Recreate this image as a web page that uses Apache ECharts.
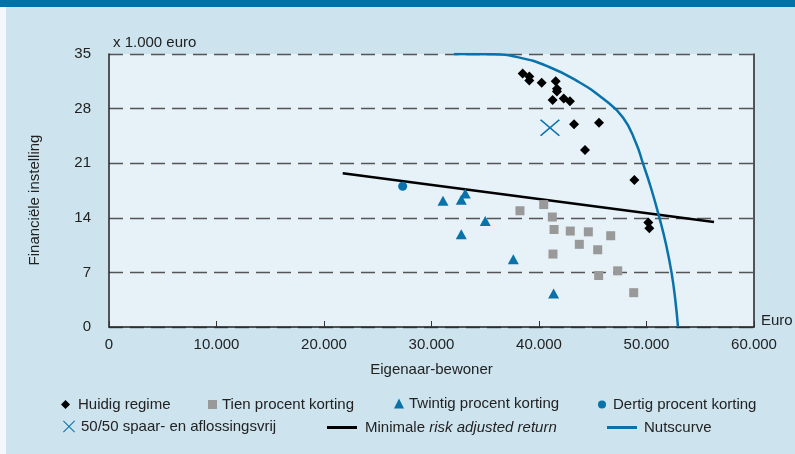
<!DOCTYPE html>
<html><head><meta charset="utf-8">
<script src="https://cdn.jsdelivr.net/npm/echarts@6/dist/echarts.min.js"></script>
<style>html,body{margin:0;padding:0;background:#cde3ee}#c{width:795px;height:454px}</style>
</head><body><div id="c"></div>
<script>
// ---- data ----
const xTickLabels = ['0', '10.000', '20.000', '30.000', '40.000', '50.000', '60.000'];
const yTickLabels = ['0', '7', '14', '21', '28', '35'];

const huidigX = [38480, 39100, 39100, 40250, 41550, 41670, 41670, 41270, 42300, 42880, 43260, 45580, 44280, 48870, 50170, 50260];
const huidigY = [32.5, 32.1, 31.6, 31.3, 31.5, 30.55, 30.2, 29.1, 29.3, 28.95, 26.0, 26.2, 22.7, 18.85, 13.4, 12.65];

const tienX = [38230, 40440, 41240, 41400, 42910, 44590, 46670, 43750, 45460, 41300, 47320, 45550, 48810];
const tienY = [14.9, 15.7, 14.1, 12.5, 12.3, 12.2, 11.7, 10.6, 9.9, 9.35, 7.2, 6.6, 4.4];

const twintigX = [31070, 32770, 33140, 35000, 32770, 37610, 41360];
const twintigY = [16.2, 16.3, 17.1, 13.6, 11.9, 8.7, 4.3];

const dertigX = [27320];
const dertigY = [18.05];

const spaarX = [41020];
const spaarY = [25.55];

const rarX = [21740, 56280];
const rarY = [19.7, 13.45];

const nutsX = [32090, 35540, 38000, 40840, 43600, 45950, 47810, 49020, 49670, 50420, 51210, 51810, 52330, 52680, 52930];
const nutsY = [35.0, 34.96, 34.6, 33.4, 31.5, 29.29, 26.86, 23.59, 20.97, 17.82, 13.95, 10.64, 6.97, 3.46, 0];

const names = ['Huidig regime', 'Tien procent korting', 'Twintig procent korting', 'Dertig procent korting',
  '50/50 spaar- en aflossingsvrij', 'Minimale risk adjusted return', 'Nutscurve'];

// ---- build ----
const zip = (xs, ys) => xs.map((x, i) => [x, ys[i]]);
const BLUE = '#0a72aa';
const FONT = "'Liberation Sans', Arial, sans-serif";
const TXT = '#222';
const crossPath = 'path://M0,1.2L1.2,0L10,8.8L18.8,0L20,1.2L11.2,10L20,18.8L18.8,20L10,11.2L1.2,20L0,18.8L8.8,10Z';

function leg(name, icon, left, top, w, h, extra) {
  return Object.assign({
    data: [{ name: name, icon: icon }],
    left: left, top: top, itemWidth: w, itemHeight: h, padding: 0,
    selectedMode: false,
    textStyle: { fontFamily: FONT, fontSize: 15, color: TXT }
  }, extra || {});
}

const chart = echarts.init(document.getElementById('c'), null, { renderer: 'canvas' });
chart.setOption({
  backgroundColor: '#cde3ee',
  animation: false,
  textStyle: { fontFamily: FONT },
  grid: { left: 109, right: 41, top: 54, bottom: 127, show: true, backgroundColor: '#e6f1f8', borderWidth: 0 },
  xAxis: {
    type: 'value', min: 0, max: 60000, interval: 10000,
    axisLine: { show: true, onZero: false, lineStyle: { color: '#222', width: 1.5 } },
    axisTick: { show: true, inside: true, length: 6, lineStyle: { color: '#333' } },
    splitLine: { show: false },
    axisLabel: { margin: 10, fontSize: 15, color: TXT, fontFamily: FONT,
      formatter: v => xTickLabels[Math.round(v / 10000)] },
    name: 'Eigenaar-bewoner', nameLocation: 'middle', nameGap: 35,
    nameTextStyle: { fontSize: 15, color: TXT, fontFamily: FONT }
  },
  yAxis: [{
    type: 'value', min: 0, max: 35, interval: 7,
    axisLine: { show: true, lineStyle: { color: '#222', width: 1.5 } },
    axisTick: { show: false },
    splitLine: { show: true, lineStyle: { color: '#555', type: [14, 7], width: 1.3 } },
    axisLabel: { margin: 18, fontSize: 15, color: TXT, fontFamily: FONT,
      formatter: v => yTickLabels[Math.round(v / 7)] }
  }, {
    type: 'value', min: 0, max: 35, interval: 7, position: 'right',
    axisLine: { show: true, lineStyle: { color: '#222', width: 1.5 } },
    axisTick: { show: false }, axisLabel: { show: false }, splitLine: { show: false }
  }],
  legend: [
    leg(names[0], 'diamond', 61, 397, 9, 9, { textStyle: { fontFamily: FONT, fontSize: 15, color: TXT, padding: [0, 0, 0, 3] } }),
    leg(names[1], 'rect', 208, 397, 9, 9),
    leg(names[2], 'triangle', 394, 396, 10, 10),
    leg(names[3], 'circle', 598, 397, 8, 8, { textStyle: { fontFamily: FONT, fontSize: 15, color: TXT, padding: [0, 0, 0, 2] } }),
    leg(names[4], crossPath, 63, 419, 12, 12, { textStyle: { fontFamily: FONT, fontSize: 15, color: TXT, padding: [0, 0, 0, 1] } }),
    leg(names[5], 'rect', 327, 420, 30, 3, {
      formatter: () => '{n|Minimale }{i|risk adjusted return}',
      textStyle: { fontFamily: FONT, fontSize: 15, color: TXT, padding: [0, 0, 0, 3],
        rich: { n: { fontFamily: FONT, fontSize: 15, color: TXT }, i: { fontFamily: FONT, fontSize: 15, color: TXT, fontStyle: 'italic' } } }
    }),
    leg(names[6], 'rect', 607, 420, 30, 3, { textStyle: { fontFamily: FONT, fontSize: 15, color: TXT, padding: [0, 0, 0, 2] } })
  ],
  graphic: [
    { type: 'rect', left: 0, top: 0, shape: { width: 795, height: 7 }, style: { fill: '#0072aa' }, z: 10 },
    { type: 'rect', left: 0, top: 7, shape: { width: 6, height: 447 }, style: { fill: '#f4f8fb' }, z: 10 },
    { type: 'text', left: 113, top: 35, style: { text: 'x 1.000 euro', font: "15px 'Liberation Sans', Arial, sans-serif", fill: TXT } },
    { type: 'text', left: 761, top: 313, style: { text: 'Euro', font: "15px 'Liberation Sans', Arial, sans-serif", fill: TXT } },
    { type: 'text', x: 35, y: 200, rotation: Math.PI / 2,
      style: { text: 'Financiële instelling', font: "15px 'Liberation Sans', Arial, sans-serif", fill: TXT, align: 'center', verticalAlign: 'middle' } }
  ],
  series: [
    { name: names[5], type: 'line', data: zip(rarX, rarY), showSymbol: false, symbol: 'none',
      lineStyle: { color: '#000', width: 2.5 }, itemStyle: { color: '#000' }, z: 3 },
    { name: names[6], type: 'line', data: zip(nutsX, nutsY), showSymbol: false, symbol: 'none', smooth: 0.5,
      lineStyle: { color: BLUE, width: 2.5 }, itemStyle: { color: BLUE }, z: 3 },
    { name: names[0], type: 'scatter', data: zip(huidigX, huidigY), symbol: 'diamond', symbolSize: [10, 10],
      itemStyle: { color: '#000', opacity: 1 }, z: 4 },
    { name: names[1], type: 'scatter', data: zip(tienX, tienY), symbol: 'rect', symbolSize: 9,
      itemStyle: { color: '#999', opacity: 1 }, z: 4 },
    { name: names[2], type: 'scatter', data: zip(twintigX, twintigY), symbol: 'triangle', symbolSize: [11, 10],
      itemStyle: { color: BLUE, opacity: 1 }, z: 4 },
    { name: names[3], type: 'scatter', data: zip(dertigX, dertigY), symbol: 'circle', symbolSize: 9,
      itemStyle: { color: BLUE, opacity: 1 }, z: 4 },
    { name: names[4], type: 'scatter', data: zip(spaarX, spaarY), symbol: crossPath, symbolSize: [20, 17],
      itemStyle: { color: BLUE, opacity: 1 }, z: 4 }
  ]
});
</script></body></html>
